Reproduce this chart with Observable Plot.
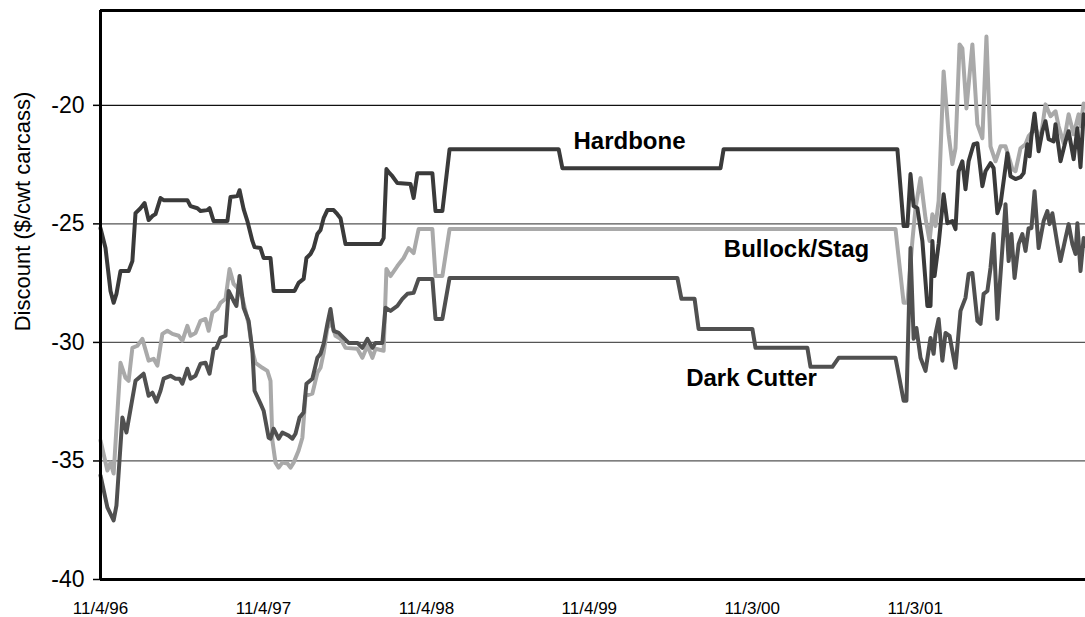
<!DOCTYPE html>
<html><head><meta charset="utf-8">
<script src="https://cdn.jsdelivr.net/npm/d3@7"></script>
<script src="https://cdn.jsdelivr.net/npm/@observablehq/plot@0.6"></script>
<style>html,body{margin:0;padding:0;background:#fff;} svg{display:block}</style>
</head><body><div id="chart"></div>
<script>
// ---- data (weeks since 11/4/96, discount $/cwt carcass) ----
const startDate = "1996-11-04";
const tickDates = ["1996-11-04","1997-11-04","1998-11-04","1999-11-04","2000-11-03","2001-11-03"];
const tickLabels = ["11/4/96","11/4/97","11/4/98","11/4/99","11/3/00","11/3/01"];
const yTicks = [-40,-35,-30,-25,-20];
const seriesNames = ["Hardbone","Bullock/Stag","Dark Cutter"];

const hardboneWeeks = [0,1.6,3.2,4.2,5.1,6.4,9.0,10.2,11.2,12.8,14.1,15.4,16.6,17.6,19.2,20.2,27.8,28.8,31.0,32.0,34.2,34.9,36.2,40.6,41.6,43.8,44.5,45.8,47.0,48.6,49.3,51.2,52.2,54.4,55.4,62.1,63.4,65.0,65.9,67.2,68.2,69.4,70.4,71.4,72.6,74.6,75.8,76.8,78.4,89.6,90.6,91.5,92.5,93.4,95.0,99.2,100.2,101.4,106.2,107.2,109.4,111.7,146.6,147.8,198.4,199.4,255.0,257.0,258.2,259.2,260.2,261.4,263.0,264.6,265.6,266.2,266.9,268.2,269.8,271.0,272.6,273.6,274.6,275.8,276.8,277.8,279.4,280.6,282.2,283.2,284.8,285.8,287.0,288.0,290.2,291.2,292.8,294.4,295.4,296.6,297.3,297.9,298.9,300.2,301.4,302.4,303.4,305.0,305.6,307.2,308.8,309.8,311.4,312.6,313.6,314.6,315.2];
const hardboneValues = [-25.18,-26.02,-27.83,-28.33,-27.95,-26.99,-26.99,-26.57,-24.55,-24.34,-24.12,-24.84,-24.67,-24.59,-23.91,-24.00,-24.00,-24.25,-24.34,-24.46,-24.42,-24.34,-24.88,-24.88,-23.87,-23.83,-23.58,-24.38,-24.88,-25.72,-25.98,-26.02,-26.44,-26.44,-27.83,-27.83,-27.49,-27.32,-26.44,-26.27,-26.02,-25.43,-25.26,-24.76,-24.42,-24.42,-24.59,-24.76,-25.85,-25.85,-25.60,-22.69,-22.86,-22.99,-23.28,-23.32,-23.91,-22.86,-22.86,-24.46,-24.46,-21.85,-21.85,-22.65,-22.65,-21.85,-21.85,-25.09,-25.09,-22.90,-24.25,-24.34,-25.72,-28.46,-28.46,-25.72,-27.20,-25.85,-23.75,-24.97,-24.88,-25.22,-22.78,-22.36,-23.54,-22.36,-21.64,-21.60,-23.41,-22.78,-22.44,-22.65,-24.55,-24.17,-22.02,-22.99,-23.11,-23.03,-22.86,-21.64,-22.15,-21.30,-20.34,-21.94,-21.09,-20.67,-21.43,-21.52,-20.80,-22.36,-21.52,-21.09,-22.27,-20.97,-22.61,-20.38,-20.46];

const bullockWeeks = [0,2.2,3.2,4.2,6.4,8.0,9.0,10.2,11.8,13.4,15.4,17.0,18.2,19.8,21.4,23.0,25.0,26.2,27.8,28.8,30.4,32.0,33.6,34.6,35.8,37.4,38.4,40.0,41.3,42.6,43.8,45.4,47.4,48.6,49.6,51.8,53.4,54.4,55.0,56.0,57.0,58.2,59.8,60.8,61.8,63.4,64.6,65.6,67.8,69.4,70.4,71.4,72.6,73.9,75.2,76.8,78.4,82.2,83.8,85.4,87.0,88.0,90.6,91.5,92.8,95.0,97.0,98.6,100.2,101.8,106.2,107.2,109.4,111.7,254.4,257.0,258.2,259.8,260.8,262.4,264.0,265.3,266.2,267.2,268.2,269.8,271.4,272.6,273.6,274.9,275.8,277.1,279.0,280.6,282.2,283.5,284.8,286.4,288.0,289.6,290.6,291.8,292.8,294.4,296.0,297.0,299.2,300.8,302.4,304.0,305.6,306.6,308.2,309.8,311.4,313.0,313.6,314.6,315.2];
const bullockValues = [-34.14,-35.40,-35.07,-35.53,-30.86,-31.49,-31.62,-30.23,-30.14,-29.85,-30.77,-30.69,-30.98,-29.64,-29.51,-29.64,-29.72,-29.93,-29.30,-29.72,-29.60,-29.09,-29.01,-29.51,-28.75,-28.59,-28.33,-28.16,-26.90,-27.53,-27.70,-28.12,-29.22,-30.35,-30.86,-31.07,-31.20,-31.62,-34.14,-35.07,-35.28,-35.07,-35.11,-35.28,-35.07,-34.56,-34.02,-32.25,-32.16,-31.28,-31.07,-30.44,-29.39,-29.18,-29.72,-29.85,-30.23,-30.27,-30.65,-30.14,-30.65,-30.27,-30.35,-26.90,-27.20,-26.78,-26.44,-26.02,-26.23,-25.22,-25.22,-27.20,-27.20,-25.22,-25.22,-28.33,-28.33,-25.72,-24.34,-23.07,-24.76,-25.72,-24.59,-25.09,-24.04,-18.57,-21.22,-22.48,-21.81,-17.43,-17.60,-20.13,-17.43,-20.80,-21.39,-17.10,-21.73,-22.36,-21.73,-21.73,-22.15,-22.69,-22.78,-21.81,-21.64,-21.30,-20.97,-21.43,-19.96,-20.46,-20.25,-20.88,-21.60,-20.38,-21.22,-20.38,-20.88,-19.92,-20.04];

const darkCutterWeeks = [0,2.2,4.2,5.1,7.0,8.3,11.2,13.8,15.4,16.6,17.9,19.2,20.2,22.4,24.0,25.3,26.2,27.8,28.8,30.4,32.0,33.6,34.9,36.2,37.1,38.4,40.0,41.0,42.6,43.5,44.5,45.8,47.4,48.6,49.3,51.2,52.2,53.8,54.4,55.4,57.0,58.2,60.2,61.4,62.4,63.7,65.0,65.9,67.8,69.4,70.4,71.4,72.6,73.6,74.6,76.2,77.8,79.4,82.2,83.8,85.4,87.0,88.0,90.2,91.2,92.8,95.0,96.6,98.2,100.2,101.8,106.2,107.2,109.4,111.7,184.6,185.9,190.1,191.4,208.6,209.6,226.2,227.2,234.2,236.2,254.4,257.0,257.9,259.2,260.2,261.1,262.4,264.0,265.6,266.6,267.2,268.2,269.4,270.4,271.7,273.6,275.2,276.8,277.8,279.0,280.6,281.6,282.6,283.8,284.8,285.8,287.0,288.6,289.6,290.6,291.5,292.5,293.8,295.0,296.0,297.0,297.9,298.9,300.2,301.8,303.0,303.7,304.6,306.2,307.2,308.8,309.8,311.0,312.0,312.6,313.6,314.6,315.2];
const darkCutterValues = [-35.61,-36.96,-37.51,-36.88,-33.17,-33.80,-31.62,-31.32,-32.25,-32.12,-32.50,-32.04,-31.53,-31.41,-31.53,-31.53,-31.74,-31.11,-31.53,-31.41,-30.90,-30.86,-31.32,-30.27,-30.23,-29.81,-29.72,-27.83,-28.25,-28.46,-27.20,-28.54,-29.09,-30.35,-32.04,-32.58,-32.88,-34.02,-34.06,-33.64,-34.06,-33.80,-33.93,-34.06,-33.85,-33.17,-32.96,-31.74,-31.53,-30.65,-30.48,-30.06,-29.22,-28.59,-29.51,-29.60,-29.81,-30.02,-30.02,-30.23,-29.85,-30.23,-30.02,-30.02,-28.54,-28.67,-28.46,-28.16,-27.95,-27.91,-27.32,-27.32,-29.01,-29.01,-27.28,-27.28,-28.16,-28.16,-29.43,-29.43,-30.23,-30.23,-31.03,-31.03,-30.65,-30.65,-32.46,-32.46,-26.02,-29.85,-29.39,-30.65,-31.20,-29.81,-30.48,-29.64,-29.01,-30.77,-29.60,-29.72,-31.07,-28.67,-28.12,-27.11,-27.07,-29.09,-29.22,-27.95,-27.83,-26.86,-25.43,-29.01,-26.02,-24.17,-26.57,-25.43,-27.28,-25.85,-25.43,-26.14,-25.18,-25.18,-23.62,-26.02,-24.88,-24.46,-25.01,-24.55,-25.85,-26.57,-25.60,-25.01,-25.85,-26.27,-24.97,-26.99,-25.60,-25.93];

// ---- build tables ----
const t0 = Date.parse(startDate + "T00:00:00Z");
const weekMs = 7 * 864e5;
const toDate = w => new Date(t0 + w * weekMs);
const rows = (name, ws, vs) => ws.map((w, i) => ({series: name, date: toDate(w), value: vs[i]}));
const hardbone = rows(seriesNames[0], hardboneWeeks, hardboneValues);
const bullock = rows(seriesNames[1], bullockWeeks, bullockValues);
const darkCutter = rows(seriesNames[2], darkCutterWeeks, darkCutterValues);
const ticks = tickDates.map(s => new Date(s + "T00:00:00Z"));
const labelOf = new Map(ticks.map((d, i) => [+d, tickLabels[i]]));

const font = "'Liberation Sans', Arial, Helvetica, sans-serif";
const lineOpts = {x: "date", y: "value", strokeWidth: 4, strokeLinejoin: "round", strokeLinecap: "round"};
const labelOpts = {frameAnchor: "top-left", lineAnchor: "middle", textAnchor: "middle", fontSize: 24, fontWeight: "bold", fill: "#000"};

const chart = Plot.plot({
  width: 1085,
  height: 617,
  marginLeft: 100,
  marginRight: 0,
  marginTop: 10,
  marginBottom: 38,
  style: {fontFamily: font, background: "#fff", color: "#000"},
  x: {type: "utc", domain: [toDate(0), toDate(315.2)]},
  y: {domain: [-40, -16]},
  marks: [
    Plot.ruleY([-35, -30, -25], {stroke: "#555", strokeWidth: 1.2}),
    Plot.ruleY([-20], {stroke: "#111", strokeWidth: 1.2}),
    Plot.line(bullock, {...lineOpts, stroke: "#a9a9a9"}),
    Plot.line(darkCutter, {...lineOpts, stroke: "#505050"}),
    Plot.line(hardbone, {...lineOpts, stroke: "#3a3a3a"}),
    Plot.ruleX([toDate(0)], {stroke: "#000", strokeWidth: 3}),
    Plot.ruleY([-40], {stroke: "#000", strokeWidth: 3}),
    Plot.ruleY([-16], {stroke: "#000", strokeWidth: 3}),
    Plot.axisY(yTicks, {tickSize: 7, tickPadding: 9, fontSize: 23, label: null, stroke: "#000", strokeWidth: 1.5, tickFormat: d => String(d)}),
    Plot.axisX(ticks, {tickSize: 0, tickPadding: 22, fontSize: 17, label: null, tickFormat: d => labelOf.get(+d)}),
    Plot.text(["Discount ($/cwt carcass)"], {frameAnchor: "top-left", lineAnchor: "middle", textAnchor: "middle", dx: -78, dy: 201, rotate: -90, fontSize: 22, fill: "#000"}),
    Plot.text([seriesNames[0]], {...labelOpts, dx: 529, dy: 131}),
    Plot.text([seriesNames[1]], {...labelOpts, dx: 696, dy: 239}),
    Plot.text([seriesNames[2]], {...labelOpts, dx: 651, dy: 368})
  ]
});
document.getElementById("chart").appendChild(chart);
</script>
</body></html>
